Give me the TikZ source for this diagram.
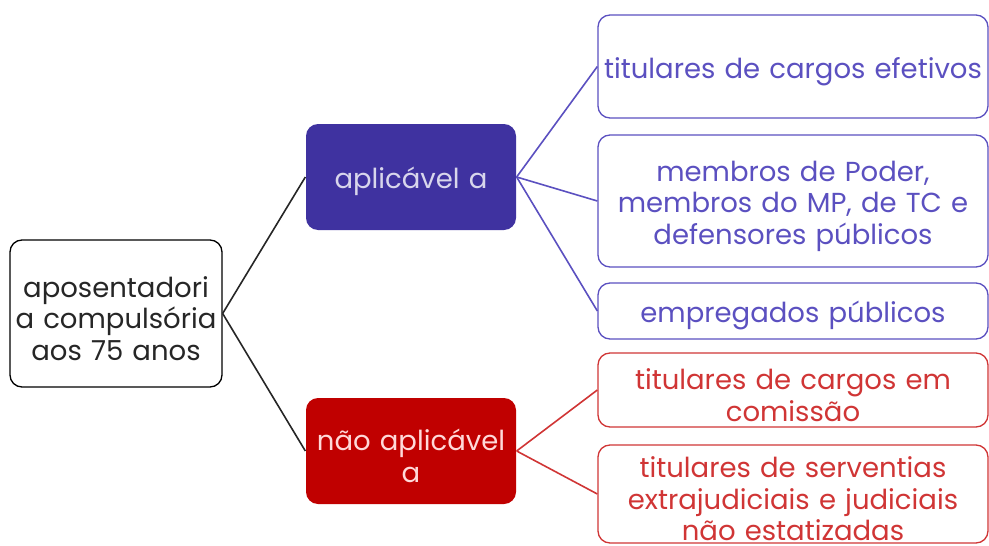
\documentclass[tikz,border=0pt]{standalone}
\usepackage{fontspec}
\setmainfont{Poppins}
\definecolor{roxo}{HTML}{3F32A0}
\definecolor{roxoclaro}{HTML}{5B50C0}
\definecolor{vermelho}{HTML}{C00000}
\definecolor{vermelhoclaro}{HTML}{D03535}
\begin{document}
\begin{tikzpicture}[x=1pt, y=-1pt,
    caixa/.style={draw, rounded corners=12pt, line width=1.3pt, align=center, inner sep=1pt,
      font=\fontsize{27.5}{31.5}\selectfont, execute at begin node={\rule{0pt}{31pt}}},
    raiz/.style={caixa, draw=black, text=black!85, text width=210pt},
    grupo/.style={caixa, draw=none, minimum width=210pt, minimum height=106pt, text width=208pt},
    itemazul/.style={caixa, draw=roxoclaro, text=roxoclaro, minimum width=390pt, text width=388pt},
    itemvermelho/.style={caixa, draw=vermelhoclaro, text=vermelhoclaro, minimum width=390pt, text width=388pt},
    liga/.style={line width=1.6pt}]
        \useasboundingbox (0,0) rectangle (989,546);

        % Nodes
        \node[raiz, minimum width=212pt, minimum height=147pt] (raiz) at (116,313.5)
            {aposentadori\\a compulsória\\aos 75 anos};

        \node[grupo, fill=roxo, text=roxo!20] (aplic) at (411,177) {aplicável a};
        \node[grupo, fill=vermelho, text=red!15] (naoaplic) at (411,451) {não aplicável\\a};

        \node[itemazul, minimum height=103pt] (efetivos) at (793,66.5) {titulares de cargos efetivos};
        \node[itemazul, minimum height=132pt] (membros) at (793,201)
            {membros de Poder,\\membros do MP, de TC e\\defensores públicos};
        \node[itemazul, minimum height=56pt] (empregados) at (793,311) {empregados públicos};

        \node[itemvermelho, minimum height=74pt] (comissao) at (793,390)
            {titulares de cargos em\\comissão};
        \node[itemvermelho, minimum height=98pt] (serventias) at (793,494)
            {titulares de serventias\\extrajudiciais e judiciais\\não estatizadas};

        % Links
        \draw[liga, black!85] (raiz.east) -- (aplic.west);
        \draw[liga, black!85] (raiz.east) -- (naoaplic.west);

        \draw[liga, roxoclaro] (aplic.east) -- (efetivos.west);
        \draw[liga, roxoclaro] (aplic.east) -- (membros.west);
        \draw[liga, roxoclaro] (aplic.east) -- (empregados.west);

        \draw[liga, vermelhoclaro] (naoaplic.east) -- (comissao.west);
        \draw[liga, vermelhoclaro] (naoaplic.east) -- (serventias.west);

    \end{tikzpicture}
\end{document}
